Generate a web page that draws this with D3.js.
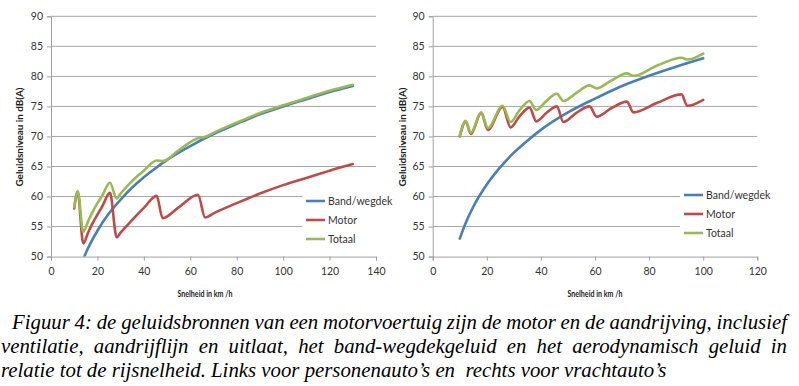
<!DOCTYPE html>
<html>
<head>
<meta charset="utf-8">
<script src="https://cdn.jsdelivr.net/npm/d3@7"></script>
<style>
  body { margin: 0; background: #fff; }
  svg { display: block; }
  .cap text { font-family: "Liberation Serif", "Times New Roman", "DejaVu Serif", serif; font-style: italic; font-size: 20.8px; fill: #000; }
</style>
</head>
<body>
<svg id="fig" width="799" height="386"></svg>
<script>
// ---- data ----
const seriesNames = ['Band/wegdek', 'Motor', 'Totaal'];
const yTicks = [50, 55, 60, 65, 70, 75, 80, 85, 90];

// left: personenauto's
const carSpeedBand = [10, 15, 20, 25, 30, 35, 40, 45, 50, 60, 70, 80, 90, 100, 110, 120, 130];
const carBand = [45.4, 50.6, 54.3, 57.2, 59.5, 61.5, 63.2, 64.7, 66.1, 68.4, 70.4, 72.1, 73.7, 75.0, 76.2, 77.4, 78.4];
const carSpeed = [10, 11.5, 13.9, 16, 18, 20, 22, 25.4, 28.3, 30, 35, 40, 45.5, 48.1, 55, 63.3, 66.4, 70, 80, 90, 100, 110, 120, 130];
const carMotor = [58.0, 60.7, 52.2, 54.0, 55.6, 57.0, 58.3, 60.6, 53.2, 54.0, 56.1, 58.1, 60.1, 56.4, 58.2, 60.3, 56.5, 57.2, 58.9, 60.5, 61.9, 63.1, 64.3, 65.4];
const carTotal = [58.2, 60.9, 54.1, 55.9, 57.5, 58.9, 60.1, 62.3, 59.7, 60.5, 62.6, 64.3, 66.0, 65.9, 67.7, 69.7, 69.9, 70.6, 72.3, 73.9, 75.2, 76.4, 77.6, 78.6];
const carXTicks = [0, 20, 40, 60, 80, 100, 120, 140];

// right: vrachtauto's
const truckSpeedBand = [10, 12, 15, 20, 25, 30, 35, 40, 50, 60, 70, 80, 90, 100];
const truckBand = [53.0, 55.4, 58.3, 62.0, 64.9, 67.3, 69.3, 71.1, 74.0, 76.3, 78.4, 80.1, 81.6, 83.0];
const truckSpeed = [10, 12.2, 14.1, 17.9, 20.4, 25.8, 28.8, 32, 35.8, 38.3, 42, 45.9, 48.3, 53, 58.0, 60.6, 66, 71.8, 74.2, 83, 92, 94.1, 100];
const truckMotor = [70.0, 72.5, 70.4, 73.9, 71.1, 74.9, 71.5, 73.3, 74.8, 72.5, 73.9, 75.0, 72.4, 73.9, 75.0, 73.3, 74.7, 75.8, 74.0, 75.6, 77.0, 75.1, 76.1];
const truckTotal = [70.1, 72.6, 70.6, 74.0, 71.4, 75.1, 72.4, 74.3, 75.9, 74.4, 75.9, 77.1, 75.9, 77.2, 78.5, 78.0, 79.3, 80.5, 80.1, 81.8, 83.1, 82.8, 83.8];
const truckXTicks = [0, 20, 40, 60, 80, 100, 120];

const captionLines = [
  'Figuur 4: de geluidsbronnen van een motorvoertuig zijn de motor en de aandrijving, inclusief',
  'ventilatie, aandrijflijn en uitlaat, het band-wegdekgeluid en het aerodynamisch geluid in',
  'relatie tot de rijsnelheid. Links voor personenauto\u2019s en  rechts voor vrachtauto\u2019s'
];

const colors = { 'Band/wegdek': '#4a7ebb', 'Motor': '#be4b48', 'Totaal': '#98b954' };
const font = 'Lato, "Open Sans", sans-serif';

const svg = d3.select('#fig');

function drawPanel(cfg) {
  const x = d3.scaleLinear().domain(cfg.xDomain).range(cfg.xRange);
  const y = d3.scaleLinear().domain([50, 90]).range([256.6, 16.3]);
  const g = svg.append('g');

  // gridlines
  g.append('g').selectAll('line')
    .data(yTicks.slice(1))
    .enter().append('line')
    .attr('x1', cfg.xRange[0]).attr('x2', cfg.xRange[1])
    .attr('y1', d => y(d)).attr('y2', d => y(d))
    .attr('stroke', '#a6a6a6').attr('stroke-width', 1);

  // y axis
  const yAxis = g.append('g')
    .attr('transform', `translate(${cfg.xRange[0]},0)`)
    .call(d3.axisLeft(y).tickValues(yTicks).tickSize(4).tickPadding(4));
  // x axis
  const xAxis = g.append('g')
    .attr('transform', `translate(0,${y(50)})`)
    .call(d3.axisBottom(x).tickValues(cfg.xTicks).tickSize(4).tickPadding(7));

  [yAxis, xAxis].forEach(ax => {
    ax.select('.domain').attr('stroke', '#a0a0a0');
    ax.selectAll('.tick line').attr('stroke', '#a0a0a0');
    ax.selectAll('text').attr('font-family', font).attr('font-size', 10.5).attr('fill', '#333');
  });

  // clip lines to plot area
  const clipId = 'clip' + cfg.id;
  svg.append('clipPath').attr('id', clipId).append('rect')
    .attr('x', cfg.xRange[0]).attr('y', y(90))
    .attr('width', cfg.xRange[1] - cfg.xRange[0]).attr('height', y(50) - y(90));

  const line = d3.line()
    .x(d => x(d[0])).y(d => y(d[1]))
    .curve(d3.curveMonotoneX);

  const series = [
    { name: 'Band/wegdek', pts: d3.zip(cfg.bandX, cfg.band) },
    { name: 'Motor', pts: d3.zip(cfg.speed, cfg.motor) },
    { name: 'Totaal', pts: d3.zip(cfg.speed, cfg.total) }
  ];
  g.append('g').attr('clip-path', `url(#${clipId})`)
    .selectAll('path')
    .data(series)
    .enter().append('path')
    .attr('d', d => line(d.pts))
    .attr('fill', 'none')
    .attr('stroke', d => colors[d.name])
    .attr('stroke-width', 2.6)
    .attr('stroke-linejoin', 'round')
    .attr('stroke-linecap', 'round');

  // legend
  const lg = g.append('g');
  lg.append('rect')
    .attr('x', cfg.legend.x - 4).attr('y', cfg.legend.y - 10)
    .attr('width', 90).attr('height', 56).attr('fill', '#fff');
  seriesNames.forEach((name, i) => {
    const ly = cfg.legend.y + i * 19;
    lg.append('line')
      .attr('x1', cfg.legend.x).attr('x2', cfg.legend.x + 19)
      .attr('y1', ly).attr('y2', ly)
      .attr('stroke', colors[name]).attr('stroke-width', 2.6);
    lg.append('text')
      .attr('x', cfg.legend.x + 22).attr('y', ly + 3.5)
      .attr('font-family', font).attr('font-size', 10.5).attr('fill', '#333')
      .text(name);
  });

  // axis titles
  g.append('text')
    .attr('x', cfg.xTitleX).attr('y', 297)
    .attr('text-anchor', 'middle')
    .attr('font-family', font).attr('font-size', 9).attr('font-weight', 'bold').attr('fill', '#222')
    .attr('textLength', 55).attr('lengthAdjust', 'spacingAndGlyphs')
    .text('Snelheid in km /h');
  g.append('text')
    .attr('transform', `translate(${cfg.yTitleX},137) rotate(-90)`)
    .attr('text-anchor', 'middle')
    .attr('font-family', font).attr('font-size', 10).attr('font-weight', 'bold').attr('fill', '#222')
    .attr('textLength', 99).attr('lengthAdjust', 'spacingAndGlyphs')
    .text('Geluidsniveau in dB(A)');
}

drawPanel({
  id: 'L', xDomain: [0, 140], xRange: [51, 376], xTicks: carXTicks,
  bandX: carSpeedBand, band: carBand, speed: carSpeed, motor: carMotor, total: carTotal,
  legend: { x: 306, y: 201 }, xTitleX: 205, yTitleX: 23
});
drawPanel({
  id: 'R', xDomain: [0, 120], xRange: [432.7, 757.3], xTicks: truckXTicks,
  bandX: truckSpeedBand, band: truckBand, speed: truckSpeed, motor: truckMotor, total: truckTotal,
  legend: { x: 684, y: 195 }, xTitleX: 595, yTitleX: 406
});

// caption, justified word by word like the original document
const cap = svg.append('g').attr('class', 'cap');
const capLayout = [
  { x0: 12, x1: 787, y: 329, justify: true },
  { x0: 1, x1: 787, y: 353, justify: true },
  { x0: 1, x1: null, y: 377, justify: false }
];
captionLines.forEach((txt, i) => {
  const L = capLayout[i];
  if (!L.justify) {
    cap.append('text').attr('x', L.x0).attr('y', L.y)
      .style('white-space', 'pre').text(txt);
    return;
  }
  const words = txt.split(' ');
  const widths = words.map(w => {
    const t = cap.append('text').text(w);
    const wd = t.node().getComputedTextLength();
    t.remove();
    return wd;
  });
  const gap = (L.x1 - L.x0 - d3.sum(widths)) / (words.length - 1);
  let cx = L.x0;
  words.forEach((w, k) => {
    cap.append('text').attr('x', cx).attr('y', L.y).text(w);
    cx += widths[k] + gap;
  });
});
</script>
</body>
</html>
